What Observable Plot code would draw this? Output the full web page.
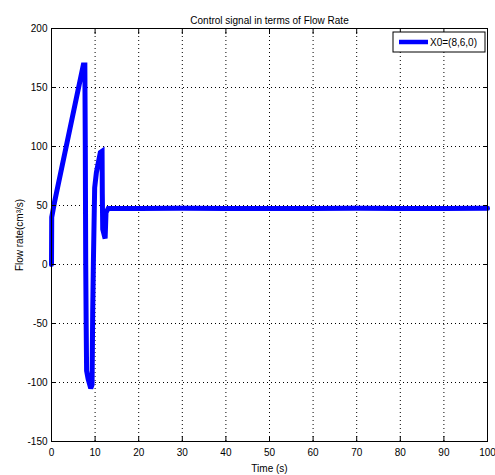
<!DOCTYPE html>
<html>
<head>
<meta charset="utf-8">
<script src="https://cdn.jsdelivr.net/npm/d3@7"></script>
<script src="https://cdn.jsdelivr.net/npm/@observablehq/plot@0.6"></script>
<style>
  html, body { margin: 0; padding: 0; background: #fff; }
  svg { display: block; }
</style>
</head>
<body>
<div id="chart"></div>
<script>
const title = "Control signal in terms of Flow Rate";
const xLabel = "Time (s)";
const yLabel = "Flow rate(cm³/s)";
const legendLabel = "X0=(8,6,0)";
const xTicks = [0, 10, 20, 30, 40, 50, 60, 70, 80, 90, 100];
const yTicks = [-150, -100, -50, 0, 50, 100, 150, 200];

const time = [0, 0.05, 0.7, 7.3, 7.65, 7.75, 7.85, 7.95, 8.05, 8.4, 9.0, 9.3, 9.45, 9.6, 9.9, 10.3, 11.2, 11.6, 11.65, 11.75, 12.3, 12.5, 13, 20, 30, 40, 50, 60, 70, 80, 90, 100];
const flow = [0, 40, 53, 169, 169, 100, 0, -50, -90, -97, -105, -102, -40, 0, 65, 78, 95, 96, 60, 30, 22, 44, 47.5, 47.5, 47.6, 47.5, 47.4, 47.5, 47.6, 47.5, 47.4, 47.6];

const data = time.map((t, i) => ({t, v: flow[i]}));
const font = "'Liberation Sans Narrow', 'Liberation Sans', Arial, sans-serif";
const fmt = d => String(d);
const blank = () => "";

const chart = Plot.plot({
  width: 495,
  height: 475,
  marginLeft: 51,
  marginRight: 8,
  marginTop: 28,
  marginBottom: 34,
  style: {fontFamily: font, fontSize: "10px", background: "#fff", color: "#000"},
  x: {domain: [0, 100], ticks: xTicks},
  y: {domain: [-150, 200], ticks: yTicks},
  marks: [
    Plot.gridX(xTicks, {stroke: "#000", strokeOpacity: 1, strokeDasharray: "1,3", strokeWidth: 1}),
    Plot.gridY(yTicks, {stroke: "#000", strokeOpacity: 1, strokeDasharray: "1,3", strokeWidth: 1}),
    Plot.line(data, {x: "t", y: "v", stroke: "#0000ff", strokeWidth: 5, strokeLinejoin: "miter", strokeMiterlimit: 3}),
    Plot.frame({stroke: "#000", strokeWidth: 1}),
    Plot.axisX(xTicks, {anchor: "bottom", tickSize: -5, tickPadding: 12, tickFormat: fmt, label: xLabel, labelAnchor: "center", labelOffset: 30, labelArrow: "none", fontSize: 10}),
    Plot.axisX(xTicks, {anchor: "top", tickSize: -5, tickFormat: blank, label: null}),
    Plot.axisY(yTicks, {anchor: "left", tickSize: -5, tickPadding: 9, tickFormat: fmt, label: yLabel, labelAnchor: "center", labelOffset: 36, labelArrow: "none", fontSize: 10}),
    Plot.axisY(yTicks, {anchor: "right", tickSize: -5, tickFormat: blank, label: null}),
    Plot.text([title], {frameAnchor: "top", dy: -12, fontSize: 10, fill: "#000"})
  ]
});

// Legend box (upper right)
const svg = d3.select(chart);
const lg = svg.append("g");
lg.append("rect").attr("x", 393).attr("y", 32).attr("width", 92).attr("height", 20)
  .attr("fill", "#fff").attr("stroke", "#000").attr("stroke-width", 1);
lg.append("line").attr("x1", 399).attr("x2", 428).attr("y1", 42).attr("y2", 42)
  .attr("stroke", "#0000ff").attr("stroke-width", 4.5);
lg.append("text").attr("x", 430).attr("y", 45.5).text(legendLabel)
  .attr("text-anchor", "start")
  .attr("font-family", font).attr("font-size", 10).attr("fill", "#000");

document.getElementById("chart").appendChild(chart);
</script>
</body>
</html>
